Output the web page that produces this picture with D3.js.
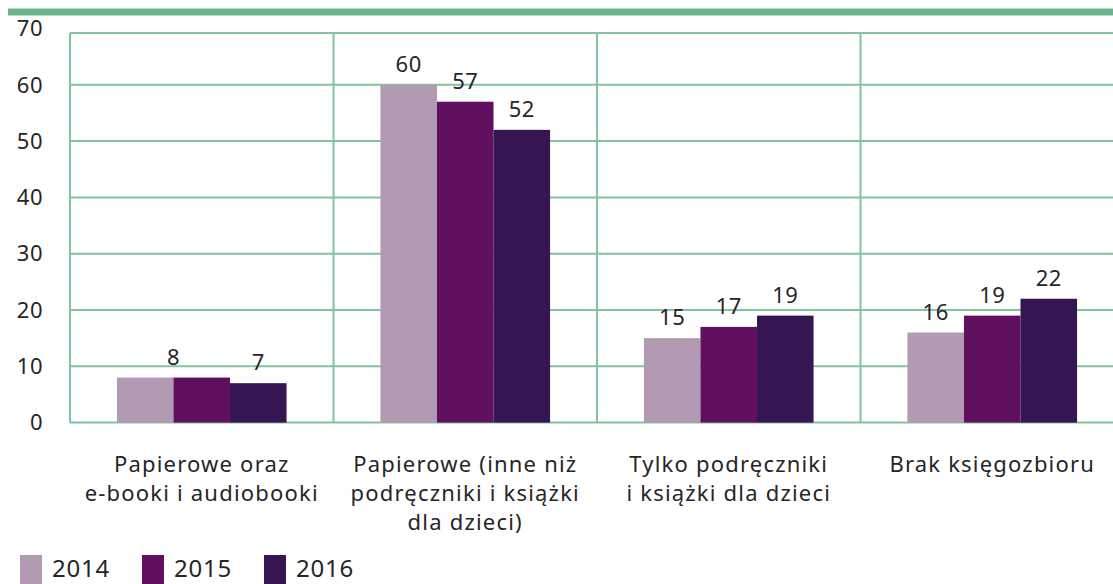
<!DOCTYPE html>
<html>
<head>
<meta charset="utf-8">
<script src="https://cdn.jsdelivr.net/npm/d3@7"></script>
<style>
  body { margin: 0; background: #fff; }
  text { font-family: "Noto Sans", sans-serif; fill: #262626; }
</style>
</head>
<body>
<div id="chart"></div>
<script>
// Data
const categories = [
    "Papierowe oraz|e-booki i audiobooki",
    "Papierowe (inne niż|podręczniki i książki|dla dzieci)",
    "Tylko podręczniki|i książki dla dzieci",
    "Brak księgozbioru"
];
const years = ["2014", "2015", "2016"];
const values2014 = [8, 60, 15, 16];
const values2015 = [8, 57, 17, 19];
const values2016 = [7, 52, 19, 22];
const yTicks = [0, 10, 20, 30, 40, 50, 60, 70];

const yearColors = d3.scaleOrdinal()
    .domain(years)
    .range(["#b29ab2", "#610f5f", "#361553"]);

const width = 1113, height = 584;
const gridColor = "#82c4a0";
const plotTop = 33;   // the frame is clipped just below the 70 mark

const svg = d3.select("#chart")
    .append("svg")
    .attr("width", width)
    .attr("height", height);

const x0 = d3.scaleBand()
    .domain(categories)
    .range([70, 1124])
    .padding(0);

const x1 = d3.scaleBand()
    .domain(years)
    .range([0, x0.bandwidth()])
    .paddingInner(0)
    .paddingOuter(0.83);

const y = d3.scaleLinear()
    .domain([0, 70])
    .range([422.6, 28.5]);

// Top green rule
svg.append("line")
    .attr("x1", 8).attr("x2", width)
    .attr("y1", 12).attr("y2", 12)
    .attr("stroke", "#6bb38b")
    .attr("stroke-width", 7);

// Horizontal gridlines (top one sits on the frame)
svg.append("g")
    .selectAll("line")
    .data(yTicks)
    .enter()
    .append("line")
    .attr("x1", 70).attr("x2", width)
    .attr("y1", d => Math.max(y(d), plotTop))
    .attr("y2", d => Math.max(y(d), plotTop))
    .attr("stroke", gridColor)
    .attr("stroke-width", 2);

// Vertical gridlines (band boundaries)
svg.append("g")
    .selectAll("line")
    .data(categories)
    .enter()
    .append("line")
    .attr("x1", d => x0(d)).attr("x2", d => x0(d))
    .attr("y1", plotTop).attr("y2", y(0))
    .attr("stroke", gridColor)
    .attr("stroke-width", 2);

// Y tick labels
svg.append("g")
    .selectAll("text")
    .data(yTicks)
    .enter()
    .append("text")
    .attr("x", 43)
    .attr("y", d => y(d))
    .attr("dy", "0.35em")
    .attr("text-anchor", "end")
    .attr("font-size", "22px")
    .attr("letter-spacing", "0.5px")
    .text(d => d);

// Bars
const rows = categories.map((c, i) => ({
    cat: c,
    vals: [values2014[i], values2015[i], values2016[i]]
}));

const groups = svg.append("g")
    .selectAll("g")
    .data(rows)
    .enter()
    .append("g")
    .attr("transform", d => `translate(${x0(d.cat)},0)`);

groups.selectAll("rect")
    .data(d => d.vals.map((v, j) => ({ year: years[j], value: v })))
    .enter()
    .append("rect")
    .attr("x", d => x1(d.year))
    .attr("y", d => y(d.value))
    .attr("width", x1.bandwidth())
    .attr("height", d => y(0) - y(d.value))
    .attr("fill", d => yearColors(d.year));

// Value labels: equal neighbouring values share one label
groups.each(function(d) {
    const g = d3.select(this);
    const labels = [];
    d.vals.forEach((v, j) => {
        const last = labels[labels.length - 1];
        if (last && last.value === v) {
            last.end = j;
        } else {
            labels.push({ value: v, start: j, end: j });
        }
    });
    g.selectAll("text")
        .data(labels)
        .enter()
        .append("text")
        .attr("x", l => (x1(years[l.start]) + x1(years[l.end]) + x1.bandwidth()) / 2)
        .attr("y", l => y(l.value) - 13)
        .attr("text-anchor", "middle")
        .attr("font-size", "22px")
        .attr("letter-spacing", "0.5px")
        .text(l => l.value);
});

// Category labels
const catLabels = svg.append("g")
    .selectAll("text")
    .data(categories)
    .enter()
    .append("text")
    .attr("x", d => x0(d) + x0.bandwidth() / 2)
    .attr("y", 472)
    .attr("text-anchor", "middle")
    .attr("font-size", "22px")
    .attr("letter-spacing", "1.2px");

catLabels.selectAll("tspan")
    .data(d => d.split("|"))
    .enter()
    .append("tspan")
    .attr("x", function() { return d3.select(this.parentNode).attr("x"); })
    .attr("dy", (d, i) => i === 0 ? 0 : 29)
    .text(d => d);

// Legend
const legend = svg.append("g")
    .attr("transform", "translate(20,555)");

years.forEach((yr, i) => {
    const g = legend.append("g").attr("transform", `translate(${i * 122},0)`);
    g.append("rect")
        .attr("width", 22)
        .attr("height", 29)
        .attr("fill", yearColors(yr));
    g.append("text")
        .attr("x", 32)
        .attr("y", 22)
        .attr("font-size", "24px")
        .attr("letter-spacing", "0.8px")
        .text(yr);
});
</script>
</body>
</html>
